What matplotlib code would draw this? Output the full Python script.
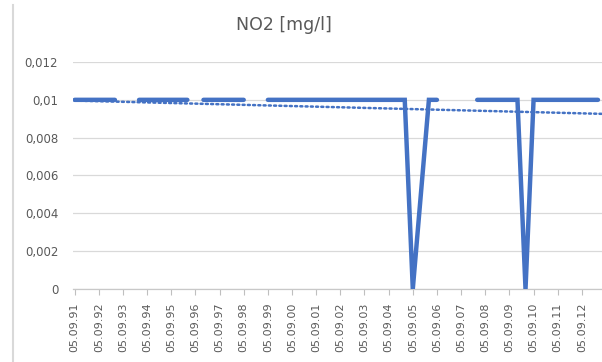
#!/usr/bin/env python3
# -*- coding: utf-8 -*-
"""NO2 [mg/l] line chart with gaps and a dotted linear trendline."""

import numpy as np
import matplotlib
matplotlib.use("Agg")
import matplotlib.pyplot as plt
from matplotlib.lines import Line2D

plt.rcParams['font.family'] = ['DejaVu Sans']

# --- data ---
# one value per measurement; NaN = missing measurement (gap in the line)
no2_values = [
    0.01, 0.01, 0.01, 0.01, 0.01, 0.01, np.nan, np.nan,
    0.01, 0.01, 0.01, 0.01, 0.01, 0.01, 0.01, np.nan,
    0.01, 0.01, 0.01, 0.01, 0.01, 0.01, np.nan, np.nan,
    0.01, 0.01, 0.01, 0.01, 0.01, 0.01, 0.01, 0.01,
    0.01, 0.01, 0.01, 0.01, 0.01, 0.01, 0.01, 0.01,
    0.01, 0.01, 0.0, 0.005, 0.01, 0.01, np.nan, np.nan,
    np.nan, np.nan, 0.01, 0.01, 0.01, 0.01, 0.01, 0.01,
    0.0, 0.01, 0.01, 0.01, 0.01, 0.01, 0.01, 0.01,
    0.01, 0.01,
]
# category labels, shown on every third measurement
tick_labels = [
    "05.09.91", "05.09.92", "05.09.93", "05.09.94", "05.09.95", "05.09.96",
    "05.09.97", "05.09.98", "05.09.99", "05.09.00", "05.09.01", "05.09.02",
    "05.09.03", "05.09.04", "05.09.05", "05.09.06", "05.09.07", "05.09.08",
    "05.09.09", "05.09.10", "05.09.11", "05.09.12",
]
label_step = 3
# linear trendline (computed by the spreadsheet over the full series)
trend_intercept = 0.00996
trend_slope = -0.0000107
y_ticks = [0, 0.002, 0.004, 0.006, 0.008, 0.01, 0.012]
y_tick_labels = ["0", "0,002", "0,004", "0,006", "0,008", "0,01", "0,012"]

BLUE = '#4472C4'
TEXT = '#595959'
GRID = '#d9d9d9'

fig = plt.figure(figsize=(6.02, 3.62), dpi=100)
ax = fig.add_axes([0.122, 0.2017, 0.878, 0.627])

x = np.arange(len(no2_values))
y = np.array(no2_values, dtype=float)

x_max = 65.5
xt = np.array([0, x_max])
ax.plot(xt, trend_intercept + trend_slope * xt, color=BLUE, linewidth=1.8,
        linestyle=(0, (0.8, 1.3)), dash_capstyle='round', zorder=2)
ax.plot(x, y, color=BLUE, linewidth=3.2, solid_capstyle='round',
        solid_joinstyle='miter', zorder=3)

ax.set_xlim(-0.15, x_max)
ax.set_ylim(0, 0.012)

ax.set_yticks(y_ticks)
ax.set_yticklabels(y_tick_labels)
ax.yaxis.grid(True, color=GRID, linewidth=0.9)
ax.set_axisbelow(True)
ax.tick_params(axis='y', length=0, pad=11, labelsize=8.5, labelcolor=TEXT)

tick_pos = np.arange(len(tick_labels)) * label_step
ax.set_xticks(tick_pos)
ax.set_xticklabels(tick_labels, rotation=90)
ax.tick_params(axis='x', length=4, width=0.8, color='#bfbfbf', pad=6,
               labelsize=8, labelcolor=TEXT)

for side in ['top', 'right', 'left']:
    ax.spines[side].set_visible(False)
ax.spines['bottom'].set_color('#c8c8c8')
ax.spines['bottom'].set_linewidth(0.9)

fig.text(0.472, 0.931, "NO2 [mg/l]", ha='center', va='center',
         fontsize=12.5, color=TEXT)

# chart-area border on the left
fig.add_artist(Line2D([0.021, 0.021], [0.0, 0.986], color=GRID,
                      linewidth=1.5, transform=fig.transFigure))

fig.savefig("out.png", dpi=100)
